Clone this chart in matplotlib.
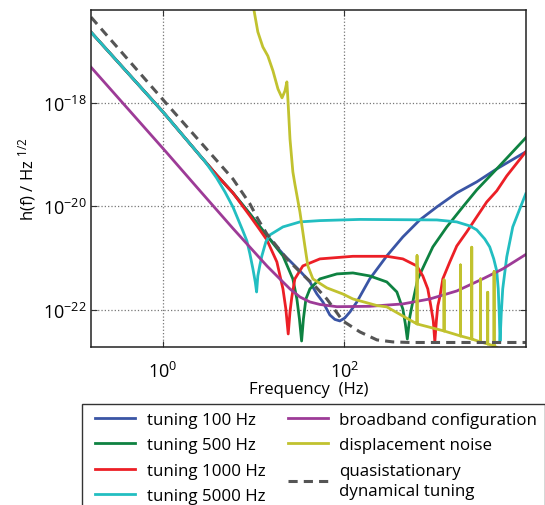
import math
import matplotlib
matplotlib.use("Agg")
import matplotlib.pyplot as plt
from matplotlib.ticker import FixedLocator, NullLocator, FuncFormatter
from matplotlib.lines import Line2D
from matplotlib.legend_handler import HandlerLine2D

# values (frequency in Hz, strain in 1/sqrt(Hz))
f_100 = [0.161, 1.0, 2.56, 3.90, 5.90, 9.08, 13.97, 21.0, 32.3, 41.6, 49.7, 57.8,
         69.0, 78.4, 89.0, 101, 115, 137, 190, 293, 440, 676, 1042, 1729,
         2871, 4767, 9950]
h_100 = [2.38e-17, 6.78e-19, 9.64e-20, 4.07e-20, 1.83e-20, 7.16e-21, 2.72e-21,
         1.20e-21, 5.62e-22, 3.44e-22, 2.01e-22, 1.41e-22, 7.89e-23, 6.46e-23,
         6.04e-23, 6.91e-23, 9.02e-23, 1.41e-22, 3.94e-22, 1.10e-21, 2.56e-21,
         5.47e-21, 9.77e-21, 1.83e-20, 2.99e-20, 5.33e-20, 1.14e-19]

f_500 = [0.161, 1.0, 2.56, 3.90, 5.90, 9.08, 13.97, 21.0, 27.0, 29.9, 31.9, 33.7,
         35.3, 37.6, 41.6, 53.6, 82.5, 124, 190, 293, 378, 440, 469, 493, 525,
         566, 643, 768, 942, 1343, 2014, 2871, 4767, 9950]
h_500 = [2.38e-17, 6.78e-19, 9.64e-20, 4.07e-20, 1.83e-20, 7.16e-21, 2.72e-21,
         1.10e-21, 3.94e-22, 1.61e-22, 6.61e-23, 2.47e-23, 6.61e-23, 1.61e-22,
         2.52e-22, 3.94e-22, 4.92e-22, 5.14e-22, 4.50e-22, 3.44e-22, 2.20e-22,
         1.03e-22, 5.28e-23, 2.70e-23, 7.22e-23, 1.41e-22, 3.94e-22, 7.69e-22,
         1.64e-21, 4.01e-21, 9.77e-21, 2.09e-20, 5.33e-20, 2.13e-19]

f_1000 = [0.161, 1.0, 2.56, 3.90, 5.90, 9.08, 11.7, 13.97, 18.0, 21.0, 22.6, 24.0,
          25.1, 26.3, 28.4, 34.8, 53.6, 124, 293, 440, 627, 730, 829, 895, 953,
          991, 1030, 1069, 1125, 1213, 1449, 1729, 2228, 2871, 3698, 4767, 6146,
          9950]
h_1000 = [2.38e-17, 6.78e-19, 9.64e-20, 4.07e-20, 1.83e-20, 6.55e-21, 3.51e-21,
          2.24e-21, 8.40e-22, 2.52e-22, 1.03e-22, 3.38e-23, 9.02e-23, 1.76e-22,
          3.94e-22, 7.03e-22, 9.62e-22, 1.08e-21, 1.08e-21, 9.62e-22, 7.03e-22,
          4.50e-22, 2.52e-22, 1.18e-22, 6.04e-23, 2.37e-23, 6.04e-23, 1.18e-22,
          1.76e-22, 3.94e-22, 8.40e-22, 1.71e-21, 3.21e-21, 6.27e-21, 1.22e-20,
          2.00e-20, 3.90e-20, 1.14e-19]

f_5000 = [0.161, 1.0, 2.56, 2.90, 3.90, 4.82, 5.90, 7.60, 8.41, 9.08, 9.80, 10.4,
          10.76, 11.1, 11.7, 12.3, 13.6, 15.1, 21.0, 32.3, 53.6, 148, 1042, 1729,
          2404, 2871, 3516, 3990, 4420, 4767, 4954, 5081, 5186, 5346, 5550, 6146,
          7161, 8551, 9950]
h_5000 = [2.38e-17, 6.78e-19, 9.64e-20, 7.45e-20, 3.56e-20, 1.91e-20, 9.77e-21,
          3.35e-21, 2.14e-21, 1.20e-21, 6.15e-22, 3.44e-22, 2.20e-22, 4.50e-22,
          7.35e-22, 1.10e-21, 2.05e-21, 2.81e-21, 4.01e-21, 5.01e-21, 5.31e-21,
          5.60e-21, 5.47e-21, 5.01e-21, 4.19e-21, 3.51e-21, 2.34e-21, 1.64e-21,
          9.62e-22, 5.62e-22, 2.52e-22, 8.26e-23, 2.47e-23, 8.26e-23, 2.52e-22,
          1.05e-21, 4.01e-21, 8.93e-21, 1.75e-20]

f_broad = [0.161, 1.08, 2.56, 5.90, 13.97, 19.4, 25.1, 32.3, 41.6, 53.6, 82.5,
           190, 440, 873, 1729, 3341, 5550, 9950]
h_broad = [4.99e-18, 1.14e-19, 2.00e-20, 3.75e-21, 7.03e-22, 3.94e-22, 2.52e-22,
           1.76e-22, 1.41e-22, 1.26e-22, 1.14e-22, 1.16e-22, 1.29e-22, 1.61e-22,
           2.30e-22, 3.94e-22, 6.15e-22, 1.17e-21]

# displacement noise, with narrow resonance lines above ~600 Hz
f_disp = [9.8, 10.05, 11.1, 12.6, 14.3, 16.3, 18.5, 20.5, 22.1, 23.2, 23.8, 25.1,
          27.0, 28.4, 32.3, 36.6, 39.5, 44.9, 64.0, 96.0, 124, 228, 293, 525,
          631, 631, 631, 1253, 1253, 1253, 1900, 1900, 1900, 2529, 2529, 2529,
          3155, 3155, 3155, 3793, 3793, 3793, 4456, 4456, 4456, 4889]
h_disp = [8.4e-17, 6.43e-17, 2.41e-17, 1.23e-17, 8.26e-18, 4.23e-18, 1.89e-18,
          1.27e-18, 1.73e-18, 2.59e-18, 1.21e-18, 2.03e-19, 4.67e-20, 2.73e-20,
          7.82e-21, 1.71e-21, 7.03e-22, 3.94e-22, 2.64e-22, 2.01e-22, 1.61e-22,
          1.20e-22, 1.13e-22, 6.31e-23,
          5.28e-23, 1.11e-21, 5.28e-23, 3.86e-23, 3.77e-22, 3.86e-23,
          3.09e-23, 7.35e-22, 3.09e-23, 2.70e-23, 1.62e-21, 2.70e-23,
          2.37e-23, 3.94e-22, 2.37e-23, 2.16e-23, 2.17e-22, 2.16e-23,
          1.98e-23, 5.45e-22, 1.98e-23, 1.81e-23]

f_quasi = [0.161, 1.0, 5.90, 9.08, 11.1, 13.97, 23.2, 32.3, 47.2, 64.0, 96.0, 148,
           228, 341, 525, 9950]
h_quasi = [4.65e-17, 1.17e-18, 3.41e-20, 1.12e-20, 5.73e-21, 2.93e-21, 9.62e-22,
           5.38e-22, 2.88e-22, 1.61e-22, 6.04e-23, 3.70e-23, 2.59e-23, 2.37e-23,
           2.31e-23, 2.31e-23]

x_ticks = [1e0, 1e2]
y_ticks = [1e-22, 1e-20, 1e-18]

FONT = "Open Sans"
plt.rcParams["font.family"] = [FONT, "DejaVu Sans"]
plt.rcParams["mathtext.fontset"] = "custom"
plt.rcParams["mathtext.rm"] = FONT
plt.rcParams["mathtext.it"] = FONT + ":italic"
plt.rcParams["mathtext.bf"] = FONT + ":bold"

fig = plt.figure(figsize=(5.45, 5.06), dpi=100)
ax = fig.add_axes([0.167, 0.3123, 0.798, 0.666])

lw = 2.0
ax.plot(f_100, h_100, color="#3a55a5", lw=lw, label="tuning 100 Hz")
ax.plot(f_500, h_500, color="#0e8241", lw=lw, label="tuning 500 Hz")
ax.plot(f_1000, h_1000, color="#ec1f26", lw=lw, label="tuning 1000 Hz")
ax.plot(f_5000, h_5000, color="#22bec1", lw=lw, label="tuning 5000 Hz")
ax.plot(f_broad, h_broad, color="#9d3b97", lw=lw, label="broadband configuration")
ax.plot(f_disp, h_disp, color="#c1c22f", lw=lw, label="displacement noise")
ax.plot(f_quasi, h_quasi, color="#555555", lw=2.2, ls=(0, (3, 2)),
        label="quasistationary\ndynamical tuning")

ax.set_xscale("log")
ax.set_yscale("log")
ax.set_xlim(0.161, 1e4)
ax.set_ylim(1.89e-23, 6.4e-17)

ax.xaxis.set_major_locator(FixedLocator(x_ticks))
ax.yaxis.set_major_locator(FixedLocator(y_ticks))
ax.xaxis.set_minor_locator(NullLocator())
ax.yaxis.set_minor_locator(NullLocator())


def exp_fmt(v, pos):
    e = int(round(math.log10(v)))
    return r"$10^{%d}$" % e


ax.xaxis.set_major_formatter(FuncFormatter(exp_fmt))
ax.yaxis.set_major_formatter(FuncFormatter(exp_fmt))
ax.tick_params(which="both", direction="in", top=True, right=True,
               length=4, width=0.8, labelsize=13, color="#333333")
ax.tick_params(axis="x", pad=10)
ax.tick_params(axis="y", pad=3)

ax.grid(True, which="major", ls=":", color="#777777", lw=0.9)
for s in ax.spines.values():
    s.set_linewidth(1.1)
    s.set_color("#222222")

ax.set_xlabel("Frequency  (Hz)", fontsize=12, labelpad=0)
ax.set_ylabel("h(f) / Hz $^{1/2}$", fontsize=12, labelpad=4)

leg = ax.legend(loc="upper left", bbox_to_anchor=(0.1505, 0.1996),
                bbox_transform=fig.transFigure, ncol=2, fontsize=12.2,
                frameon=True, fancybox=False, edgecolor="black",
                handlelength=2.68, handletextpad=0.69, columnspacing=1.0,
                labelspacing=0.56, borderpad=0.45, borderaxespad=0,
                handler_map={Line2D: HandlerLine2D(xpad=0.31)})
leg.get_frame().set_linewidth(1.0)
leg.get_texts()[-1].set_linespacing(1.35)

fig.savefig("out.png", dpi=100)
